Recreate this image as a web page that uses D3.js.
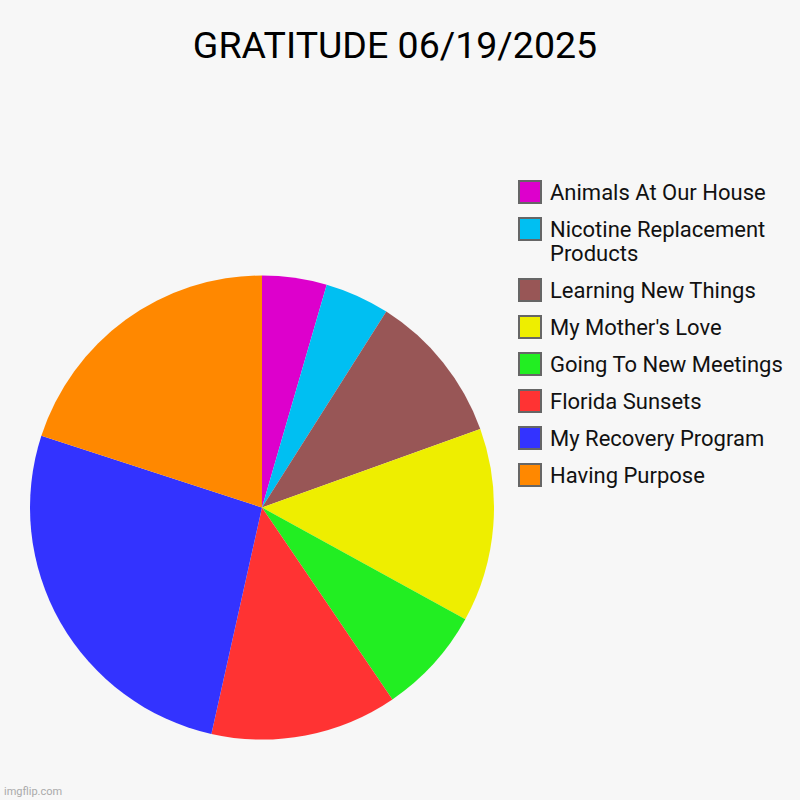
<!DOCTYPE html>
<html>
<head>
<meta charset="utf-8">
<script src="https://cdn.jsdelivr.net/npm/d3@7"></script>
<style>
  html, body { margin: 0; padding: 0; background: #f7f7f7; }
  svg { display: block; font-family: Roboto, "Noto Sans", sans-serif; }
</style>
</head>
<body>
<div id="chart"></div>
<script>
// slices, clockwise from 12 o'clock
const labels = [
  "Animals At Our House",
  "Nicotine Replacement Products",
  "Learning New Things",
  "My Mother's Love",
  "Going To New Meetings",
  "Florida Sunsets",
  "My Recovery Program",
  "Having Purpose"
];
const values = [4.5, 4.5, 10.5, 13.5, 7.5, 13, 26.5, 20];
const colors = ["#dd00cc", "#00bff2", "#985656", "#eeee00", "#22ee22", "#ff3333", "#3333ff", "#ff8800"];
const title = "GRATITUDE 06/19/2025";

const width = 800, height = 800;
const cx = 262, cy = 507.5, radius = 232;

const svg = d3.select("#chart").append("svg")
  .attr("width", width)
  .attr("height", height);

svg.append("rect").attr("width", width).attr("height", height).attr("fill", "#f7f7f7");

svg.append("text")
  .attr("x", 395)
  .attr("y", 58)
  .attr("text-anchor", "middle")
  .style("font-size", "37.5px")
  .attr("fill", "#000")
  .text(title);

const data = labels.map((l, i) => ({ label: l, value: values[i], color: colors[i] }));

const pie = d3.pie().sort(null).value(d => d.value);
const arc = d3.arc().innerRadius(0).outerRadius(radius);

const g = svg.append("g").attr("transform", `translate(${cx},${cy})`);
g.selectAll("path")
  .data(pie(data))
  .enter().append("path")
  .attr("d", arc)
  .attr("fill", d => d.data.color);

// legend
const legend = svg.append("g").attr("transform", "translate(519,181)");
let y = 0;
data.forEach(d => {
  const item = legend.append("g").attr("transform", `translate(0,${y})`);
  item.append("rect")
    .attr("x", 0).attr("y", 0)
    .attr("width", 22).attr("height", 22)
    .attr("fill", d.color)
    .attr("stroke", "#666")
    .attr("stroke-width", 2);
  const txt = item.append("text")
    .attr("x", 31)
    .attr("y", 19)
    .style("font-size", "22px")
    .attr("fill", "#111");
  // simple word wrap
  const words = d.label.split(" ");
  let line = [];
  let tspan = txt.append("tspan").attr("x", 31).attr("dy", 0);
  let lines = 1;
  words.forEach(w => {
    line.push(w);
    tspan.text(line.join(" "));
    if (tspan.node().getComputedTextLength() > 245 && line.length > 1) {
      line.pop();
      tspan.text(line.join(" "));
      line = [w];
      tspan = txt.append("tspan").attr("x", 31).attr("dy", 24).text(w);
      lines++;
    }
  });
  y += 37 + (lines - 1) * 24;
});

svg.append("text")
  .attr("x", 4)
  .attr("y", 795)
  .style("font-size", "11px")
  .attr("fill", "#aaa")
  .text("imgflip.com");
</script>
</body>
</html>
